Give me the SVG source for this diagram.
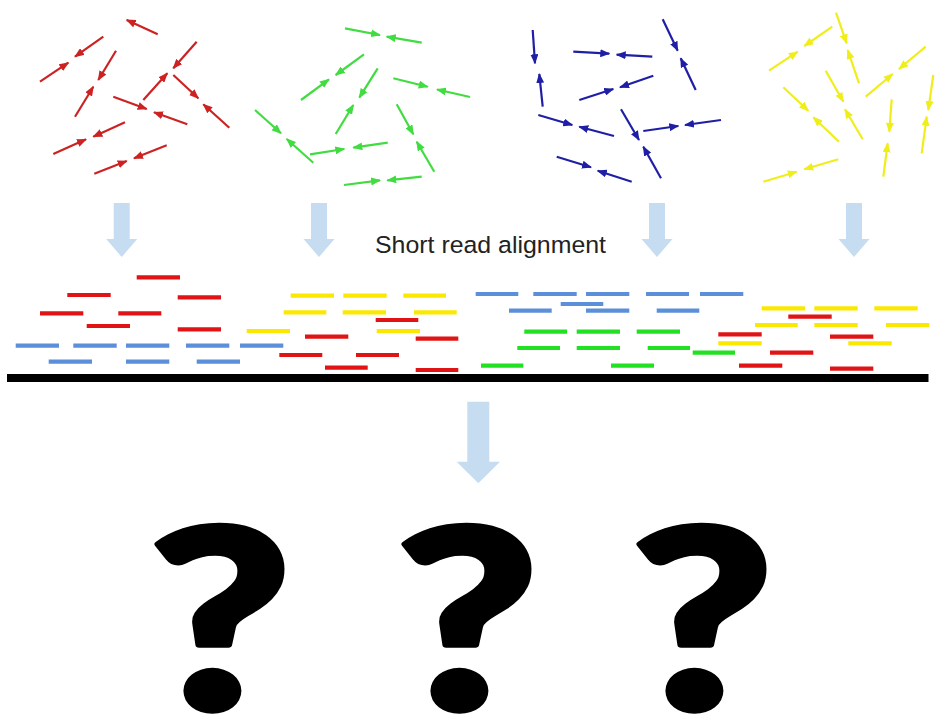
<svg xmlns="http://www.w3.org/2000/svg" width="942" height="722" viewBox="0 0 942 722">
  <style>
    .fr { stroke-width: 2.2; fill: none; }
    .r { stroke: #cc2222; marker-end: url(#hr); }
    .g { stroke: #40dc40; marker-end: url(#hg); }
    .b { stroke: #1f1fa6; marker-end: url(#hb); }
    .y { stroke: #f0ee1a; marker-end: url(#hy); }
    .read { stroke-width: 4.2; }
    .rr { stroke: #e01414; }
    .ry { stroke: #fbe800; }
    .rb { stroke: #5b8fd9; }
    .rg { stroke: #22e022; }
    .down { fill: #c6dcf0; }
    .label { font-family: "Liberation Sans", Arial, sans-serif; font-size: 24.5px; fill: #222; }
    .qm { font-family: Lato, "Liberation Sans", sans-serif; font-weight: 900; font-size: 250px; fill: #000; stroke: #000; stroke-width: 6; stroke-linejoin: round; }
  </style>
  <defs>
    <marker id="hr" viewBox="0 0 10 8" refX="9" refY="4" markerWidth="10" markerHeight="8" markerUnits="userSpaceOnUse" orient="auto"><path d="M0,0 L10,4 L0,8 Z" fill="#cc2222"/></marker>
    <marker id="hg" viewBox="0 0 10 8" refX="9" refY="4" markerWidth="10" markerHeight="8" markerUnits="userSpaceOnUse" orient="auto"><path d="M0,0 L10,4 L0,8 Z" fill="#40dc40"/></marker>
    <marker id="hb" viewBox="0 0 10 8" refX="9" refY="4" markerWidth="10" markerHeight="8" markerUnits="userSpaceOnUse" orient="auto"><path d="M0,0 L10,4 L0,8 Z" fill="#1f1fa6"/></marker>
    <marker id="hy" viewBox="0 0 10 8" refX="9" refY="4" markerWidth="10" markerHeight="8" markerUnits="userSpaceOnUse" orient="auto"><path d="M0,0 L10,4 L0,8 Z" fill="#f0ee1a"/></marker>
    <path id="smallDown" class="down" d="M-8,203 H8 V239 H15.5 L0,257 L-15.5,239 H-8 Z"/>
  </defs>

  <rect width="942" height="722" fill="#fff"/>

  <!-- red fragments -->
  <g id="fragments-red" class="fr">
    <line class="r" x1="157.7" y1="34.3" x2="126.7" y2="20"/>
    <line class="r" x1="40" y1="81.7" x2="68.3" y2="62.7"/>
    <line class="r" x1="103.3" y1="36.7" x2="75" y2="56.7"/>
    <line class="r" x1="75" y1="116.7" x2="93.3" y2="86.7"/>
    <line class="r" x1="116" y1="50.7" x2="98.3" y2="80"/>
    <line class="r" x1="143.3" y1="100" x2="167.3" y2="73.3"/>
    <line class="r" x1="196.7" y1="41.7" x2="173.3" y2="68.3"/>
    <line class="r" x1="173.3" y1="75" x2="198.3" y2="98.3"/>
    <line class="r" x1="229.3" y1="127.7" x2="203.3" y2="104.3"/>
    <line class="r" x1="113.3" y1="96.7" x2="146.7" y2="109"/>
    <line class="r" x1="187.3" y1="124.3" x2="154" y2="112.3"/>
    <line class="r" x1="53.3" y1="154" x2="86" y2="139.3"/>
    <line class="r" x1="125" y1="122.3" x2="93.3" y2="136.7"/>
    <line class="r" x1="94.3" y1="173.7" x2="126.7" y2="161"/>
    <line class="r" x1="166.7" y1="145.3" x2="134" y2="158.3"/>
  </g>

  <!-- green fragments -->
  <g id="fragments-green" class="fr">
    <line class="g" x1="345" y1="28.3" x2="380" y2="35"/>
    <line class="g" x1="421.7" y1="42.7" x2="386.7" y2="36.7"/>
    <line class="g" x1="301" y1="100" x2="329" y2="79.3"/>
    <line class="g" x1="364" y1="54.3" x2="335.7" y2="75"/>
    <line class="g" x1="335.7" y1="134" x2="353.3" y2="105"/>
    <line class="g" x1="377.7" y1="68.3" x2="359.3" y2="97.7"/>
    <line class="g" x1="393.3" y1="78.3" x2="427.7" y2="86.7"/>
    <line class="g" x1="470" y1="97" x2="437" y2="89.5"/>
    <line class="g" x1="255" y1="110" x2="281" y2="133.3"/>
    <line class="g" x1="313.3" y1="162.7" x2="286.7" y2="139"/>
    <line class="g" x1="310" y1="154.3" x2="344.3" y2="149"/>
    <line class="g" x1="387.7" y1="142.7" x2="353.3" y2="147.7"/>
    <line class="g" x1="396.7" y1="104.3" x2="413.3" y2="134.3"/>
    <line class="g" x1="434.3" y1="171.7" x2="416.7" y2="141.7"/>
    <line class="g" x1="344" y1="185" x2="380" y2="180.3"/>
    <line class="g" x1="421.7" y1="176.7" x2="387.3" y2="180.3"/>
  </g>

  <!-- blue fragments -->
  <g id="fragments-blue" class="fr">
    <line class="b" x1="532.7" y1="30" x2="535" y2="63.3"/>
    <line class="b" x1="542.7" y1="106.7" x2="539.3" y2="74"/>
    <line class="b" x1="573.3" y1="51.7" x2="609.3" y2="53.7"/>
    <line class="b" x1="652.3" y1="56.7" x2="616.7" y2="54.7"/>
    <line class="b" x1="662.7" y1="19.3" x2="677.7" y2="50.7"/>
    <line class="b" x1="695.7" y1="90" x2="680.7" y2="58.3"/>
    <line class="b" x1="579.3" y1="100" x2="613.3" y2="89"/>
    <line class="b" x1="653.3" y1="75.7" x2="620" y2="87.3"/>
    <line class="b" x1="538.3" y1="115" x2="572.3" y2="125"/>
    <line class="b" x1="614" y1="136" x2="579.3" y2="126.7"/>
    <line class="b" x1="621" y1="109.3" x2="639" y2="140"/>
    <line class="b" x1="661" y1="178.3" x2="643.3" y2="146.7"/>
    <line class="b" x1="643.3" y1="131" x2="678.3" y2="126"/>
    <line class="b" x1="721" y1="120" x2="685" y2="125"/>
    <line class="b" x1="556.7" y1="156.7" x2="591" y2="167.3"/>
    <line class="b" x1="631.7" y1="181.7" x2="597.7" y2="170.7"/>
  </g>

  <!-- yellow fragments -->
  <g id="fragments-yellow" class="fr">
    <line class="y" x1="769" y1="70.7" x2="797.7" y2="51.7"/>
    <line class="y" x1="832.3" y1="26.7" x2="804.3" y2="46"/>
    <line class="y" x1="836" y1="12.7" x2="846.7" y2="43.3"/>
    <line class="y" x1="859" y1="83.3" x2="847.7" y2="50"/>
    <line class="y" x1="865.7" y1="96.7" x2="892.7" y2="74"/>
    <line class="y" x1="925.7" y1="46.7" x2="899" y2="69"/>
    <line class="y" x1="783.3" y1="87.3" x2="808.3" y2="110.7"/>
    <line class="y" x1="839" y1="141.7" x2="813.3" y2="117.3"/>
    <line class="y" x1="825.7" y1="70.7" x2="843.3" y2="101.7"/>
    <line class="y" x1="862.7" y1="139.3" x2="845" y2="109.3"/>
    <line class="y" x1="891.7" y1="99.3" x2="889.3" y2="131.7"/>
    <line class="y" x1="883.3" y1="176.7" x2="887.7" y2="143.3"/>
    <line class="y" x1="933.3" y1="75" x2="928.3" y2="110"/>
    <line class="y" x1="921.7" y1="153.3" x2="926.7" y2="116.7"/>
    <line class="y" x1="763.3" y1="181.7" x2="796.7" y2="171.7"/>
    <line class="y" x1="838.3" y1="159.3" x2="804.3" y2="169.3"/>
  </g>

  <!-- flow arrows -->
  <g id="connectors">
    <use href="#smallDown" x="121.7"/>
    <use href="#smallDown" x="319"/>
    <use href="#smallDown" x="657"/>
    <use href="#smallDown" x="854"/>
    <path class="down" d="M467.3,401.7 H489.3 V461.7 H500 L478.3,483.3 L456.7,461.7 H467.3 Z"/>
  </g>

  <g id="label">
    <text class="label" x="375" y="253.3" textLength="231" lengthAdjust="spacingAndGlyphs">Short read alignment</text>
  </g>

  <!-- aligned reads -->
  <g id="reads" class="read">
    <g class="rr">
      <line x1="136.7" y1="277.3" x2="180" y2="277.3"/>
      <line x1="67.3" y1="295" x2="110.7" y2="295"/>
      <line x1="177.7" y1="297.3" x2="221" y2="297.3"/>
      <line x1="40" y1="313.3" x2="83.3" y2="313.3"/>
      <line x1="118.3" y1="313.3" x2="161.3" y2="313.3"/>
      <line x1="86.7" y1="326" x2="130" y2="326"/>
      <line x1="177.7" y1="329.3" x2="221" y2="329.3"/>
      <line x1="375.7" y1="320" x2="418.3" y2="320"/>
      <line x1="305" y1="336.7" x2="348.3" y2="336.7"/>
      <line x1="415.7" y1="338.7" x2="458.3" y2="338.7"/>
      <line x1="279.3" y1="355" x2="322.3" y2="355"/>
      <line x1="356" y1="355" x2="399" y2="355"/>
      <line x1="325" y1="367.7" x2="367.7" y2="367.7"/>
      <line x1="415.7" y1="370" x2="458.3" y2="370"/>
      <line x1="788.3" y1="316.7" x2="831.7" y2="316.7"/>
      <line x1="718.3" y1="334.3" x2="761.7" y2="334.3"/>
      <line x1="830" y1="336.7" x2="873.3" y2="336.7"/>
      <line x1="770" y1="352.7" x2="813.3" y2="352.7"/>
      <line x1="739" y1="365.7" x2="782.3" y2="365.7"/>
      <line x1="830" y1="368.7" x2="873.3" y2="368.7"/>
    </g>
    <g class="rb">
      <line x1="15.7" y1="345.7" x2="59" y2="345.7"/>
      <line x1="73.3" y1="345.7" x2="116.7" y2="345.7"/>
      <line x1="126" y1="345.7" x2="169.3" y2="345.7"/>
      <line x1="186" y1="345.7" x2="229.3" y2="345.7"/>
      <line x1="240" y1="345.7" x2="283.3" y2="345.7"/>
      <line x1="48.7" y1="361.7" x2="92" y2="361.7"/>
      <line x1="126" y1="361.7" x2="169.3" y2="361.7"/>
      <line x1="196.7" y1="361.7" x2="240" y2="361.7"/>
      <line x1="475.7" y1="294" x2="518.3" y2="294"/>
      <line x1="533.3" y1="294" x2="576.7" y2="294"/>
      <line x1="586" y1="294" x2="629.3" y2="294"/>
      <line x1="646" y1="294" x2="689" y2="294"/>
      <line x1="700" y1="294" x2="743.3" y2="294"/>
      <line x1="560.7" y1="304" x2="603.3" y2="304"/>
      <line x1="509" y1="310.7" x2="551.7" y2="310.7"/>
      <line x1="586" y1="310.7" x2="629.3" y2="310.7"/>
      <line x1="656.7" y1="310.7" x2="699.3" y2="310.7"/>
    </g>
    <g class="ry">
      <line x1="290.7" y1="295.7" x2="334" y2="295.7"/>
      <line x1="343.3" y1="295.7" x2="386.7" y2="295.7"/>
      <line x1="403.3" y1="295.7" x2="446" y2="295.7"/>
      <line x1="283.7" y1="312.3" x2="326.3" y2="312.3"/>
      <line x1="342.7" y1="312.3" x2="386" y2="312.3"/>
      <line x1="414" y1="312.3" x2="456.7" y2="312.3"/>
      <line x1="246.7" y1="331" x2="290" y2="331"/>
      <line x1="376.7" y1="331" x2="420" y2="331"/>
      <line x1="761.7" y1="308.3" x2="805" y2="308.3"/>
      <line x1="814.3" y1="308.3" x2="857.7" y2="308.3"/>
      <line x1="874.3" y1="308.3" x2="917.7" y2="308.3"/>
      <line x1="755" y1="325" x2="797.7" y2="325"/>
      <line x1="814.3" y1="325" x2="857.7" y2="325"/>
      <line x1="886" y1="325" x2="929.3" y2="325"/>
      <line x1="718.3" y1="343.3" x2="761.7" y2="343.3"/>
      <line x1="848.3" y1="343.3" x2="891.7" y2="343.3"/>
    </g>
    <g class="rg">
      <line x1="524.3" y1="331.7" x2="567" y2="331.7"/>
      <line x1="576.7" y1="331.7" x2="620" y2="331.7"/>
      <line x1="636.7" y1="331.7" x2="680" y2="331.7"/>
      <line x1="517.3" y1="348" x2="560" y2="348"/>
      <line x1="576.7" y1="348" x2="620" y2="348"/>
      <line x1="647.7" y1="348" x2="690" y2="348"/>
      <line x1="692.7" y1="352.7" x2="735" y2="352.7"/>
      <line x1="481" y1="365.7" x2="523.3" y2="365.7"/>
      <line x1="611" y1="365.7" x2="654" y2="365.7"/>
    </g>
  </g>

  <!-- reference genome -->
  <g id="genome">
    <rect x="7" y="374" width="921.5" height="8" fill="#000"/>
  </g>

  <!-- unknown outcomes -->
  <g id="unknowns">
    <text class="qm" text-anchor="middle" transform="translate(220,709) scale(1.24,1)">?</text>
    <text class="qm" text-anchor="middle" transform="translate(467,709) scale(1.24,1)">?</text>
    <text class="qm" text-anchor="middle" transform="translate(702,709) scale(1.24,1)">?</text>
  </g>
</svg>
